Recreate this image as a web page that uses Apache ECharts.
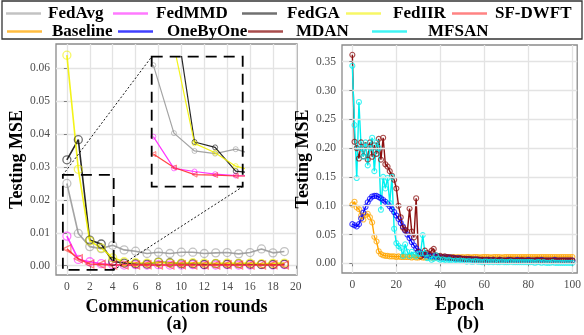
<!DOCTYPE html>
<html>
<head>
<meta charset="utf-8">
<script src="https://cdn.jsdelivr.net/npm/echarts@6/dist/echarts.min.js"></script>
<style>
html, body { margin: 0; padding: 0; background: #fff; }
#chart { width: 584px; height: 335px; }
</style>
</head>
<body>
<div id="chart"></div>
<script>
// ---------- (a) federated methods, testing MSE per communication round ----------
const rounds = [0, 1, 2, 3, 4, 5, 6, 7, 8, 9, 10, 11, 12, 13, 14, 15, 16, 17, 18, 19];
const fedAvg = [0.0250, 0.0098, 0.0058, 0.0052, 0.0062, 0.0048, 0.0044, 0.0037, 0.0041, 0.0037,
                0.0041, 0.0041, 0.0037, 0.0039, 0.0040, 0.0036, 0.0040, 0.0051, 0.0039, 0.0043];
const fedMMD = [0.0090, 0.0019, 0.0012, 0.0006, 0.0003, 0.0002, 0.0003, 0.0002, 0.0003, 0.0002,
                0.0002, 0.0003, 0.0002, 0.0002, 0.0003, 0.0002, 0.0002, 0.0003, 0.0002, 0.0003];
const fedGA  = [0.0322, 0.0383, 0.0078, 0.0066, 0.0013, 0.0008, 0.0006, 0.0005, 0.0011, 0.0009,
                0.0006, 0.0006, 0.0004, 0.0006, 0.0005, 0.0006, 0.0005, 0.0004, 0.0004, 0.0005];
const fedIIR = [0.0640, 0.0293, 0.0075, 0.0054, 0.0024, 0.0012, 0.0009, 0.0008, 0.0010, 0.0008,
                0.0008, 0.0009, 0.0008, 0.0007, 0.0008, 0.0007, 0.0008, 0.0006, 0.0007, 0.0008];
const sfDwft = [0.0051, 0.0021, 0.0005, 0.0004, 0.0002, 0.0002, 0.0002, 0.0003, 0.0002, 0.0002,
                0.0003, 0.0002, 0.0002, 0.0002, 0.0003, 0.0002, 0.0002, 0.0002, 0.0003, 0.0002];
const roundTicks = [0, 2, 4, 6, 8, 10, 12, 14, 16, 18, 20];
const mseTicksA = [0, 0.01, 0.02, 0.03, 0.04, 0.05, 0.06];

// zoomed region of (a) and the data window of its magnified view
const zoomBoxX = [-0.35, 4.09];
const zoomBoxY = [-0.0013, 0.0276];
const insetX = [-0.08, 4.34];
const insetY = [-0.0022, 0.0269];

// ---------- (b) centralised baselines, testing MSE per epoch ----------
const baseline = [
  0.102, 0.107, 0.097, 0.094, 0.083, 0.076, 0.084, 0.086, 0.080, 0.071,
  0.046, 0.038, 0.021, 0.016, 0.014, 0.013, 0.013, 0.012, 0.012, 0.012,
  0.011, 0.012, 0.011, 0.011, 0.011, 0.011, 0.011, 0.010, 0.011, 0.010,
  0.010, 0.011, 0.010, 0.010, 0.010, 0.011, 0.010, 0.010, 0.010, 0.011,
  0.010, 0.011, 0.010, 0.011, 0.010, 0.011, 0.011, 0.010, 0.011, 0.010,
  0.011, 0.010, 0.011, 0.011, 0.010, 0.011, 0.011, 0.011, 0.010, 0.011,
  0.011, 0.011, 0.011, 0.010, 0.011, 0.011, 0.011, 0.011, 0.010, 0.011,
  0.011, 0.011, 0.011, 0.011, 0.011, 0.011, 0.011, 0.011, 0.011, 0.011,
  0.011, 0.011, 0.011, 0.011, 0.011, 0.011, 0.011, 0.011, 0.011, 0.011,
  0.011, 0.011, 0.011, 0.011, 0.011, 0.011, 0.011, 0.011, 0.011, 0.011, 0.011];
const oneByOne = [
  0.068, 0.066, 0.064, 0.068, 0.078, 0.088, 0.098, 0.106, 0.112, 0.116,
  0.117, 0.117, 0.115, 0.113, 0.110, 0.107, 0.103, 0.099, 0.094, 0.089,
  0.083, 0.077, 0.070, 0.064, 0.057, 0.050, 0.044, 0.037, 0.031, 0.026,
  0.021, 0.018, 0.016, 0.014, 0.015, 0.013, 0.012, 0.013, 0.011, 0.012,
  0.010, 0.011, 0.010, 0.011, 0.009, 0.010, 0.009, 0.008, 0.009, 0.008,
  0.008, 0.007, 0.008, 0.007, 0.007, 0.006, 0.007, 0.006, 0.006, 0.006,
  0.005, 0.006, 0.006, 0.005, 0.006, 0.005, 0.005, 0.006, 0.005, 0.005,
  0.005, 0.006, 0.005, 0.005, 0.005, 0.006, 0.005, 0.005, 0.005, 0.005,
  0.006, 0.005, 0.005, 0.005, 0.005, 0.005, 0.006, 0.005, 0.005, 0.005,
  0.005, 0.005, 0.006, 0.005, 0.005, 0.005, 0.005, 0.005, 0.005, 0.005, 0.005];
const mdan = [
  0.362, 0.211, 0.200, 0.182, 0.210, 0.186, 0.205, 0.180, 0.210, 0.185,
  0.205, 0.190, 0.216, 0.180, 0.218, 0.172, 0.168, 0.160, 0.152, 0.145,
  0.130, 0.100, 0.080, 0.062, 0.058, 0.055, 0.095, 0.055, 0.045, 0.113,
  0.020, 0.012, 0.015, 0.022, 0.018, 0.016, 0.022, 0.025, 0.014, 0.012,
  0.013, 0.011, 0.012, 0.010, 0.011, 0.009, 0.010, 0.009, 0.008, 0.009,
  0.008, 0.008, 0.007, 0.008, 0.007, 0.007, 0.006, 0.007, 0.006, 0.006,
  0.006, 0.005, 0.006, 0.005, 0.006, 0.005, 0.005, 0.006, 0.005, 0.005,
  0.005, 0.005, 0.006, 0.005, 0.005, 0.005, 0.005, 0.006, 0.005, 0.005,
  0.005, 0.005, 0.005, 0.005, 0.006, 0.005, 0.005, 0.005, 0.005, 0.005,
  0.005, 0.005, 0.005, 0.005, 0.005, 0.005, 0.005, 0.005, 0.005, 0.005, 0.005];
const mfsan = [
  0.343, 0.240, 0.148, 0.280, 0.200, 0.185, 0.210, 0.170, 0.200, 0.218,
  0.160, 0.210, 0.200, 0.093, 0.150, 0.130, 0.148, 0.105, 0.150, 0.060,
  0.035, 0.030, 0.027, 0.013, 0.033, 0.020, 0.013, 0.020, 0.015, 0.012,
  0.017, 0.017, 0.049, 0.017, 0.009, 0.010, 0.006, 0.008, 0.014, 0.008,
  0.006, 0.007, 0.006, 0.005, 0.006, 0.005, 0.004, 0.005, 0.004, 0.005,
  0.004, 0.004, 0.003, 0.004, 0.003, 0.003, 0.004, 0.003, 0.003, 0.002,
  0.003, 0.003, 0.002, 0.003, 0.002, 0.003, 0.002, 0.002, 0.003, 0.002,
  0.002, 0.002, 0.003, 0.002, 0.002, 0.002, 0.002, 0.002, 0.002, 0.002,
  0.002, 0.002, 0.002, 0.001, 0.002, 0.002, 0.001, 0.002, 0.001, 0.001,
  0.001, 0.002, 0.001, 0.001, 0.001, 0.001, 0.001, 0.001, 0.001, 0.001, 0.001];
const epochs = baseline.map((_, i) => i);
const epochTicks = [0, 20, 40, 60, 80, 100];
const mseTicksB = [0, 0.05, 0.10, 0.15, 0.20, 0.25, 0.30, 0.35];

const SERIF = "'Liberation Serif', 'Times New Roman', serif";
const COLORS = {
  FedAvg: '#9a9a9a', FedMMD: '#ff1fff', FedGA: '#111111', FedIIR: '#f2f200', 'SF-DWFT': '#ff3030',
  Baseline: '#ffa500', OneByOne: '#0000ff', MDAN: '#8b1010', MFSAN: '#00f0f0'
};

const pairs = (xs, ys) => ys.map((v, i) => [xs[i], v]);

function lineSeries(name, xs, ys, grid, opts) {
  const c = COLORS[name];
  return {
    name, type: 'line', xAxisIndex: grid, yAxisIndex: grid,
    data: pairs(xs, ys),
    symbol: opts.symbol || 'circle', symbolSize: opts.size, symbolRotate: opts.rotate || 0,
    showAllSymbol: true, clip: true, animation: false,
    lineStyle: { color: c, width: opts.width, opacity: opts.lineOpacity || 1 },
    itemStyle: { color: 'rgba(0,0,0,0)', borderColor: c, borderWidth: opts.border, opacity: opts.symOpacity },
    emphasis: { disabled: true }
  };
}

const fedList = [['FedAvg', fedAvg], ['FedMMD', fedMMD], ['FedGA', fedGA], ['FedIIR', fedIIR], ['SF-DWFT', sfDwft]];
const epochList = [['Baseline', baseline], ['OneByOne', oneByOne], ['MDAN', mdan], ['MFSAN', mfsan]];

const series = [];
fedList.forEach(([n, d]) => series.push(lineSeries(n, rounds, d, 0, {
  size: 8, width: 1.6, border: 1.3, symOpacity: 0.6, lineOpacity: 0.9,
  symbol: n === 'SF-DWFT' ? 'triangle' : 'circle', rotate: n === 'SF-DWFT' ? 90 : 0
})));
epochList.forEach(([n, d]) => series.push(lineSeries(n, epochs, d, 1, {
  size: 5, width: 1.4, border: 1.1, symOpacity: 0.75
})));
fedList.forEach(([n, d]) => series.push(lineSeries(n, rounds, d, 2, {
  size: 5, width: 1.2, border: 1.0, symOpacity: 0.6, lineOpacity: 0.9,
  symbol: n === 'SF-DWFT' ? 'triangle' : 'circle', rotate: n === 'SF-DWFT' ? 90 : 0
})));

const axisLabel = { fontFamily: SERIF, fontSize: 11.5, color: '#4d4d4d' };
const gridLine = { show: true, lineStyle: { color: '#e3e3e3', width: 1.3 } };
const tick = { show: true, length: 3, lineStyle: { color: '#7f7f7f', width: 1 } };
const titleFont = { fontFamily: SERIF, fontSize: 18, fontWeight: 'bold', color: '#000' };

function valueAxis(min, max, ticks, fmt, extra) {
  return Object.assign({
    type: 'value', min, max, scale: true,
    axisLine: { show: false },
    axisTick: Object.assign({ customValues: ticks }, tick),
    axisLabel: Object.assign({ customValues: ticks, formatter: fmt, margin: 6 }, axisLabel),
    splitLine: gridLine
  }, extra || {});
}

// legend entries, each placed on its own: [name, left, top, gap before text]
const legendSpots = [
  ['FedAvg', 6, 5, 2], ['FedMMD', 113, 5, 3], ['FedGA', 242, 5, 5], ['FedIIR', 346, 5, 7], ['SF-DWFT', 452, 5, 3],
  ['Baseline', 7, 23, 5], ['OneByOne', 118, 23, 9], ['MDAN', 248, 23, 8], ['MFSAN', 372, 23, 16]
];
const legends = legendSpots.map(([n, l, t, g]) => ({
  data: [n], left: l, top: t, padding: 0, itemGap: 0, selectedMode: false,
  icon: 'rect', itemWidth: 35, itemHeight: 2.5,
  itemStyle: { color: COLORS[n], borderWidth: 0 },
  textStyle: { fontFamily: SERIF, fontSize: 17, fontWeight: 'bold', color: '#000', padding: [0, 0, 0, g] }
}));

const chart = echarts.init(document.getElementById('chart'), null, { renderer: 'canvas' });
chart.setOption({
  animation: false,
  backgroundColor: '#fff',
  legend: legends,
  title: [
    { text: '(a)', left: 172, top: 310, textAlign: 'center', textStyle: titleFont },
    { text: '(b)', left: 463, top: 310, textAlign: 'center', textStyle: titleFont }
  ],
  grid: [
    { left: 56, top: 44, width: 241, height: 231, show: true, borderColor: '#8a8a8a', borderWidth: 1.3, backgroundColor: 'transparent' },
    { left: 342, top: 45, width: 239, height: 228, show: true, borderColor: '#8a8a8a', borderWidth: 1.3, backgroundColor: 'transparent' },
    { left: 151.7, top: 56.7, width: 91, height: 130, show: false }
  ],
  xAxis: [
    valueAxis(-0.95, 20.1, roundTicks, v => String(v), {
      gridIndex: 0, name: 'Communication rounds', nameLocation: 'middle', nameGap: 17, nameTextStyle: titleFont
    }),
    valueAxis(-4.7, 102.2, epochTicks, v => String(v), {
      gridIndex: 1, name: 'Epoch', nameLocation: 'middle', nameGap: 19, nameTextStyle: titleFont
    }),
    { type: 'value', gridIndex: 2, min: insetX[0], max: insetX[1], show: false }
  ],
  yAxis: [
    valueAxis(-0.00283, 0.0674, mseTicksA, v => v.toFixed(2), {
      gridIndex: 0, name: 'Testing MSE', nameLocation: 'middle', nameGap: 30, nameTextStyle: titleFont
    }),
    valueAxis(-0.0168, 0.379, mseTicksB, v => v.toFixed(2), {
      gridIndex: 1, name: 'Testing MSE', nameLocation: 'middle', nameGap: 26, nameTextStyle: titleFont, z: 5
    }),
    { type: 'value', gridIndex: 2, min: insetY[0], max: insetY[1], show: false }
  ],
  series
});

// frame of the magnified region, the magnified view's frame and the guide lines joining them
const toPx = (g, p) => chart.convertToPixel({ gridIndex: g }, p);
const boxTL = toPx(0, [zoomBoxX[0], zoomBoxY[1]]);
const boxBR = toPx(0, [zoomBoxX[1], zoomBoxY[0]]);
const insTL = toPx(2, [insetX[0], insetY[1]]);
const insBR = toPx(2, [insetX[1], insetY[0]]);
const dashed = { stroke: '#000', fill: null, lineWidth: 1.8, lineDash: [11, 7] };
const dotted = { stroke: '#000', lineWidth: 0.9, lineDash: [2, 2] };
chart.setOption({
  graphic: [
    { type: 'rect', shape: { x: 2, y: 1, width: 580, height: 38 }, style: { stroke: '#333', fill: null, lineWidth: 1.3 }, z: 10 },
    { type: 'rect', shape: { x: boxTL[0], y: boxTL[1], width: boxBR[0] - boxTL[0], height: boxBR[1] - boxTL[1] }, style: dashed, z: 10 },
    { type: 'rect', shape: { x: insTL[0], y: insTL[1], width: insBR[0] - insTL[0], height: insBR[1] - insTL[1] }, style: dashed, z: 10 },
    { type: 'line', shape: { x1: boxTL[0], y1: boxTL[1], x2: insTL[0], y2: insTL[1] }, style: dotted, z: 10 },
    { type: 'line', shape: { x1: boxBR[0], y1: boxBR[1], x2: insBR[0], y2: insBR[1] }, style: dotted, z: 10 }
  ]
});
</script>
</body>
</html>
